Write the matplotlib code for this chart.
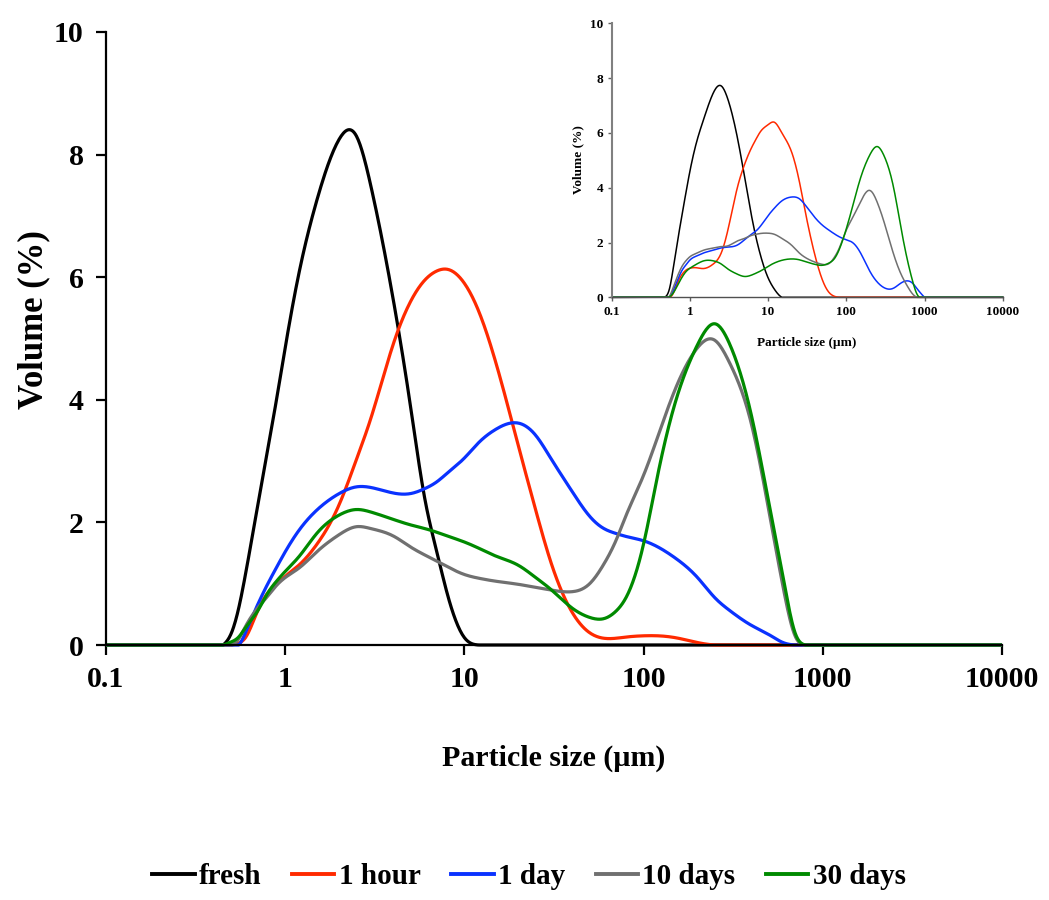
import numpy as np
import matplotlib
matplotlib.use("Agg")
import matplotlib.pyplot as plt
from matplotlib.lines import Line2D

plt.rcParams['font.family'] = ['Liberation Serif', 'DejaVu Serif']
plt.rcParams['font.weight'] = 'bold'

# ---------------- data (main chart) ----------------
size_um = [0.1, 0.3, 0.45, 0.5, 0.55, 0.6, 0.7, 0.8, 0.9, 1, 1.2, 1.5, 2, 2.5, 3, 4, 5, 6, 7, 8,
           10, 12, 15, 20, 25, 30, 40, 50, 60, 70, 80, 100, 120, 150, 200, 250, 300, 400, 500,
           600, 700, 800, 1000, 10000]

fresh = [0, 0, 0, 0.19, 0.6, 1.15, 2.25, 3.2, 4.05, 4.85, 6.1, 7.25, 8.25, 8.3, 7.5, 5.65, 3.9, 2.4, 1.53, 0.85,
         0.12, 0, 0, 0, 0, 0, 0, 0, 0, 0, 0, 0, 0, 0, 0, 0, 0, 0, 0,
         0, 0, 0, 0, 0]
hour1 = [0, 0, 0, 0, 0.03, 0.12, 0.55, 0.85, 1.0, 1.12, 1.31, 1.64, 2.29, 3.03, 3.69, 4.9, 5.6, 5.95, 6.1, 6.13,
         5.9, 5.45, 4.6, 3.25, 2.2, 1.4, 0.53, 0.2, 0.11, 0.11, 0.13, 0.15, 0.15, 0.12, 0.04, 0, 0, 0, 0,
         0, 0, 0, 0, 0]
day1 = [0, 0, 0, 0, 0, 0.2, 0.65, 1.0, 1.28, 1.52, 1.88, 2.2, 2.47, 2.58, 2.57, 2.48, 2.47, 2.55, 2.66, 2.8,
        3.05, 3.3, 3.52, 3.62, 3.42, 3.07, 2.5, 2.1, 1.9, 1.82, 1.77, 1.7, 1.6, 1.42, 1.1, 0.77, 0.57, 0.32, 0.17,
        0.04, 0, 0, 0, 0]
days10 = [0, 0, 0, 0, 0.1, 0.3, 0.6, 0.8, 0.98, 1.1, 1.26, 1.52, 1.8, 1.93, 1.9, 1.78, 1.6, 1.47, 1.37, 1.28,
          1.15, 1.09, 1.04, 0.99, 0.94, 0.9, 0.87, 1.0, 1.32, 1.7, 2.12, 2.77, 3.4, 4.17, 4.85, 4.97, 4.62, 3.6, 2.19,
          0.95, 0.15, 0, 0, 0]
days30 = [0, 0, 0, 0.05, 0.13, 0.28, 0.55, 0.85, 1.05, 1.2, 1.45, 1.82, 2.12, 2.21, 2.17, 2.05, 1.96, 1.9, 1.84, 1.78,
          1.68, 1.58, 1.45, 1.3, 1.1, 0.92, 0.6, 0.45, 0.43, 0.55, 0.78, 1.65, 2.78, 3.95, 4.9, 5.24, 4.93, 3.74, 2.32,
          1.11, 0.2, 0, 0, 0]

# ---------------- data (inset chart) ----------------
inset_fresh = [0, 0, 0, 0.05, 0.33, 0.9, 2.1, 3.07, 3.9, 4.6, 5.6, 6.5, 7.47, 7.72, 7.3, 5.9, 4.4, 3.12, 2.19, 1.53,
               0.71, 0.3, 0, 0, 0, 0, 0, 0, 0, 0, 0, 0, 0, 0, 0, 0, 0, 0, 0,
               0, 0, 0, 0, 0]
inset_hour1 = [0, 0, 0, 0, 0, 0.1, 0.55, 0.85, 1.0, 1.06, 1.08, 1.05, 1.22, 1.6, 2.35, 3.95, 4.85, 5.4, 5.77, 6.05,
               6.3, 6.39, 6.0, 5.3, 4.25, 3.1, 1.5, 0.6, 0.18, 0.04, 0, 0, 0, 0, 0, 0, 0, 0, 0,
               0, 0, 0, 0, 0]
inset_day1 = [0, 0, 0, 0, 0.02, 0.2, 0.65, 1.0, 1.2, 1.36, 1.5, 1.62, 1.72, 1.8, 1.83, 1.9, 2.1, 2.28, 2.42, 2.6,
              2.98, 3.25, 3.52, 3.66, 3.6, 3.36, 2.9, 2.62, 2.45, 2.32, 2.22, 2.1, 2.0, 1.65, 0.95, 0.55, 0.36, 0.33, 0.52,
              0.6, 0.52, 0.32, 0, 0]
inset_days10 = [0, 0, 0, 0, 0.05, 0.3, 0.8, 1.15, 1.35, 1.48, 1.6, 1.72, 1.8, 1.85, 1.87, 2.05, 2.15, 2.25, 2.3, 2.33,
                2.34, 2.3, 2.15, 1.9, 1.62, 1.45, 1.28, 1.2, 1.23, 1.45, 1.75, 2.45, 2.9, 3.45, 3.9, 3.45, 2.8, 1.6, 0.85,
                0.42, 0.13, 0, 0, 0]
inset_days30 = [0, 0, 0, 0, 0.02, 0.12, 0.45, 0.75, 0.95, 1.06, 1.2, 1.33, 1.33, 1.22, 1.05, 0.85, 0.76, 0.8, 0.88, 0.96,
                1.13, 1.25, 1.35, 1.4, 1.37, 1.3, 1.2, 1.17, 1.25, 1.4, 1.7, 2.5, 3.3, 4.3, 5.2, 5.5, 5.2, 4.04, 2.54,
                1.4, 0.62, 0.12, 0, 0]

labels = ["fresh", "1 hour", "1 day", "10 days", "30 days"]
colors = ["#000000", "#FF2A00", "#0A32FF", "#707070", "#008A00"]
main_series = [fresh, hour1, day1, days10, days30]
inset_series = [inset_fresh, inset_hour1, inset_day1, inset_days10, inset_days30]
xticks = [0.1, 1, 10, 100, 1000, 10000]
xtick_labels = ["0.1", "1", "10", "100", "1000", "10000"]
yticks = [0, 2, 4, 6, 8, 10]


def smooth(xs, ys, n=16):
    """Natural cubic spline through the points in log-x space (smoothed line)."""
    lx = np.log10(np.asarray(xs, float))
    y = np.asarray(ys, float)
    N = len(lx)
    h = np.diff(lx)
    A = np.zeros((N, N))
    b = np.zeros(N)
    A[0, 0] = 1
    A[-1, -1] = 1
    for i in range(1, N - 1):
        A[i, i - 1] = h[i - 1]
        A[i, i] = 2 * (h[i - 1] + h[i])
        A[i, i + 1] = h[i]
        b[i] = 6 * ((y[i + 1] - y[i]) / h[i] - (y[i] - y[i - 1]) / h[i - 1])
    M = np.linalg.solve(A, b)
    out_x, out_y = [], []
    for i in range(N - 1):
        t = np.linspace(0, h[i], n, endpoint=False)
        a = (M[i + 1] - M[i]) / (6 * h[i])
        c2 = M[i] / 2
        c1 = (y[i + 1] - y[i]) / h[i] - h[i] * (2 * M[i] + M[i + 1]) / 6
        seg = y[i] + c1 * t + c2 * t**2 + a * t**3
        if y[i] == 0 and y[i + 1] == 0:
            seg = np.zeros_like(t)
        out_x.append(lx[i] + t)
        out_y.append(seg)
    out_x.append([lx[-1]])
    out_y.append([y[-1]])
    return 10 ** np.concatenate(out_x), np.clip(np.concatenate(out_y), 0, None)


W, H = 1049, 900
fig = plt.figure(figsize=(W / 100, H / 100), dpi=100)

# ---------------- main axes ----------------
ax = fig.add_axes([106 / W, 1 - 645 / H, (1002 - 106) / W, (645 - 32) / H])
for ys, c, lab in zip(main_series, colors, labels):
    sx, sy = smooth(size_um, ys)
    ax.plot(sx, sy, color=c, lw=2.3, label=lab, clip_on=False, solid_capstyle='butt')
ax.set_xscale('log')
ax.set_xlim(0.1, 10000)
ax.set_ylim(0, 10)
ax.set_xticks(xticks)
ax.set_xticklabels(xtick_labels)
ax.set_yticks(yticks)
ax.minorticks_off()
for s in ['top', 'right']:
    ax.spines[s].set_visible(False)
for s in ['left', 'bottom']:
    ax.spines[s].set_linewidth(1.6)
ax.tick_params(axis='both', direction='out', length=7, width=1.6, labelsize=21.5)
ax.tick_params(axis='y', pad=9)
ax.tick_params(axis='x', pad=8)
for t in ax.get_xticklabels() + ax.get_yticklabels():
    t.set_fontweight('bold')
fig.text(34 / W, 1 - 320 / H, "Volume (%)", rotation=90, ha='center', va='center',
         fontsize=25, fontweight='bold')
fig.text(554 / W, 1 - 758 / H, "Particle size (µm)", ha='center', va='center',
         fontsize=21.5, fontweight='bold')

handles = [Line2D([], [], color=c, lw=2.8) for c in colors]
fig.legend(handles, labels, loc='center', bbox_to_anchor=(529 / W, 1 - 877 / H), ncol=5,
           frameon=False, handlelength=1.45, handletextpad=0.15, columnspacing=1.05,
           prop={'size': 21, 'weight': 'bold'})

# ---------------- inset axes ----------------
ins = fig.add_axes([611.7 / W, 1 - 297.3 / H, (1002.7 - 611.7) / W, (297.3 - 23.3) / H])
for ys, c in zip(inset_series, colors):
    sx, sy = smooth(size_um, ys)
    ins.plot(sx, sy, color=c, lw=1.1, clip_on=False)
ins.set_xscale('log')
ins.set_xlim(0.1, 10000)
ins.set_ylim(0, 10)
ins.set_xticks(xticks)
ins.set_xticklabels(xtick_labels)
ins.set_yticks(yticks)
ins.minorticks_off()
ins.patch.set_alpha(0)
for s in ['top', 'right']:
    ins.spines[s].set_visible(False)
ins.spines['left'].set_color('#808080')
ins.spines['left'].set_linewidth(1.5)
ins.spines['bottom'].set_color('#505050')
ins.spines['bottom'].set_linewidth(1.0)
ins.tick_params(axis='both', direction='out', length=3, width=1, colors='#606060',
                labelcolor='black', labelsize=9.5, pad=3)
for t in ins.get_xticklabels() + ins.get_yticklabels():
    t.set_fontweight('bold')
fig.text(578 / W, 1 - 160 / H, "Volume (%)", rotation=90, ha='center', va='center',
         fontsize=9.5, fontweight='bold')
fig.text(807 / W, 1 - 343 / H, "Particle size (µm)", ha='center', va='center',
         fontsize=9.5, fontweight='bold')

fig.savefig("out.png", dpi=100)
